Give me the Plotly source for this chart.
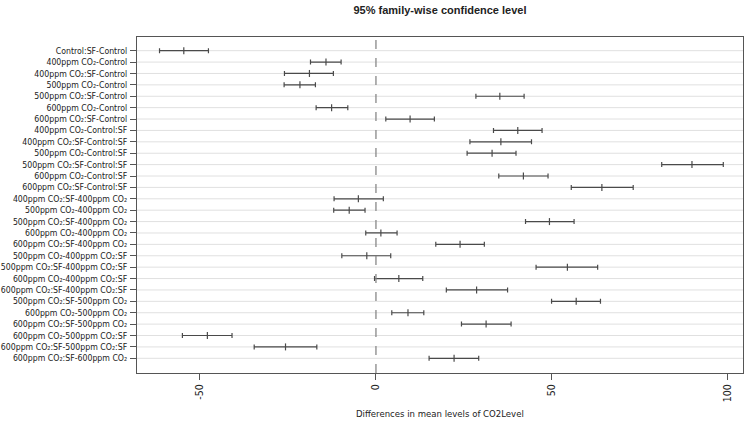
import plotly.graph_objects as go

comparisons = [
    "Control:SF-Control",
    "400ppm CO₂-Control",
    "400ppm CO₂:SF-Control",
    "500ppm CO₂-Control",
    "500ppm CO₂:SF-Control",
    "600ppm CO₂-Control",
    "600ppm CO₂:SF-Control",
    "400ppm CO₂-Control:SF",
    "400ppm CO₂:SF-Control:SF",
    "500ppm CO₂-Control:SF",
    "500ppm CO₂:SF-Control:SF",
    "600ppm CO₂-Control:SF",
    "600ppm CO₂:SF-Control:SF",
    "400ppm CO₂:SF-400ppm CO₂",
    "500ppm CO₂-400ppm CO₂",
    "500ppm CO₂:SF-400ppm CO₂",
    "600ppm CO₂-400ppm CO₂",
    "600ppm CO₂:SF-400ppm CO₂",
    "500ppm CO₂-400ppm CO₂:SF",
    "500ppm CO₂:SF-400ppm CO₂:SF",
    "600ppm CO₂-400ppm CO₂:SF",
    "600ppm CO₂:SF-400ppm CO₂:SF",
    "500ppm CO₂:SF-500ppm CO₂",
    "600ppm CO₂-500ppm CO₂",
    "600ppm CO₂:SF-500ppm CO₂",
    "600ppm CO₂-500ppm CO₂:SF",
    "600ppm CO₂:SF-500ppm CO₂:SF",
    "600ppm CO₂:SF-600ppm CO₂",
]
diff = [-54.6, -14.2, -18.9, -21.6, 35.2, -12.6, 9.7, 40.3, 35.5, 33.0, 89.8, 41.9, 64.2,
        -5.0, -7.6, 49.3, 1.4, 23.9, -2.6, 54.4, 6.5, 28.6, 56.9, 9.1, 31.3, -47.9, -25.7, 22.2]
lwr = [-61.5, -18.6, -26.0, -26.1, 28.4, -17.0, 2.8, 33.4, 26.7, 25.9, 81.2, 34.9, 55.5,
       -11.9, -12.0, 42.5, -2.9, 17.0, -9.7, 45.5, -0.4, 20.0, 49.9, 4.5, 24.3, -55.0, -34.6, 15.1]
upr = [-47.6, -9.9, -12.1, -17.2, 42.1, -8.0, 16.6, 47.2, 44.2, 39.8, 98.7, 48.9, 73.1,
       2.1, -3.1, 56.3, 6.0, 30.8, 4.2, 63.0, 13.3, 37.4, 63.8, 13.6, 38.4, -40.9, -16.8, 29.2]
x_ticks = [-50, 0, 50, 100]

rows = list(range(1, len(comparisons) + 1))
col = "#4a4a4a"
fig = go.Figure()

for r in rows:
    fig.add_shape(type="line", xref="paper", x0=0, x1=1, yref="y", y0=r, y1=r,
                  line=dict(color="#e0e0e0", width=1), layer="below")
fig.add_shape(type="line", xref="x", x0=0, x1=0, yref="paper", y0=0, y1=1,
              line=dict(color="#888888", width=1.3, dash="dash"))

fig.add_trace(go.Scatter(
    x=diff, y=rows, mode="markers",
    marker=dict(symbol="line-ns", size=5, line=dict(color=col, width=1.2), color=col),
    error_x=dict(type="data", symmetric=False,
                 array=[u - d for u, d in zip(upr, diff)],
                 arrayminus=[d - l for d, l in zip(diff, lwr)],
                 color=col, thickness=1.2, width=2.5),
    showlegend=False, hoverinfo="skip"))

label_font = "DejaVu Sans Condensed, Liberation Sans Narrow, Liberation Sans, Arial"
fig.update_layout(
    width=746, height=421,
    margin=dict(l=137, r=3, t=37, b=48, autoexpand=False),
    paper_bgcolor="white", plot_bgcolor="white",
    font=dict(family="Liberation Sans, Arial", size=11, color="#222"),
    title=dict(text="<b>95% family-wise confidence level</b>", xref="paper", x=0.5,
               xanchor="center", yref="container", y=0.976, yanchor="middle",
               font=dict(family="Liberation Sans, Arial", size=11, color="#222")),
    xaxis=dict(range=[-67.9, 104.3], tickvals=x_ticks, ticktext=[str(v) for v in x_ticks],
               tickangle=-90, ticks="outside", ticklen=6, tickcolor="#555",
               showgrid=False, zeroline=False, showline=True, linecolor="#555",
               mirror=True, linewidth=1.2, automargin=False,
               tickfont=dict(family=label_font, size=10.5)),
    yaxis=dict(range=[29.29, -0.2], tickvals=rows, ticktext=comparisons,
               ticks="outside", ticklen=6, tickcolor="#555", showgrid=False,
               zeroline=False, showline=True, linecolor="#555", mirror=True, linewidth=1.2,
               automargin=False, ticklabelstandoff=1,
               tickfont=dict(family=label_font, size=8.7)),
    annotations=[dict(text="Differences in mean levels of CO2Level", xref="paper", yref="paper",
                      x=0.5, y=0, yshift=-40, xanchor="center", yanchor="middle",
                      showarrow=False, font=dict(family=label_font, size=9.5, color="#222"))],
)

fig.write_html("out.html", config={"displayModeBar": False},
               post_script="document.body.style.margin='0';")
